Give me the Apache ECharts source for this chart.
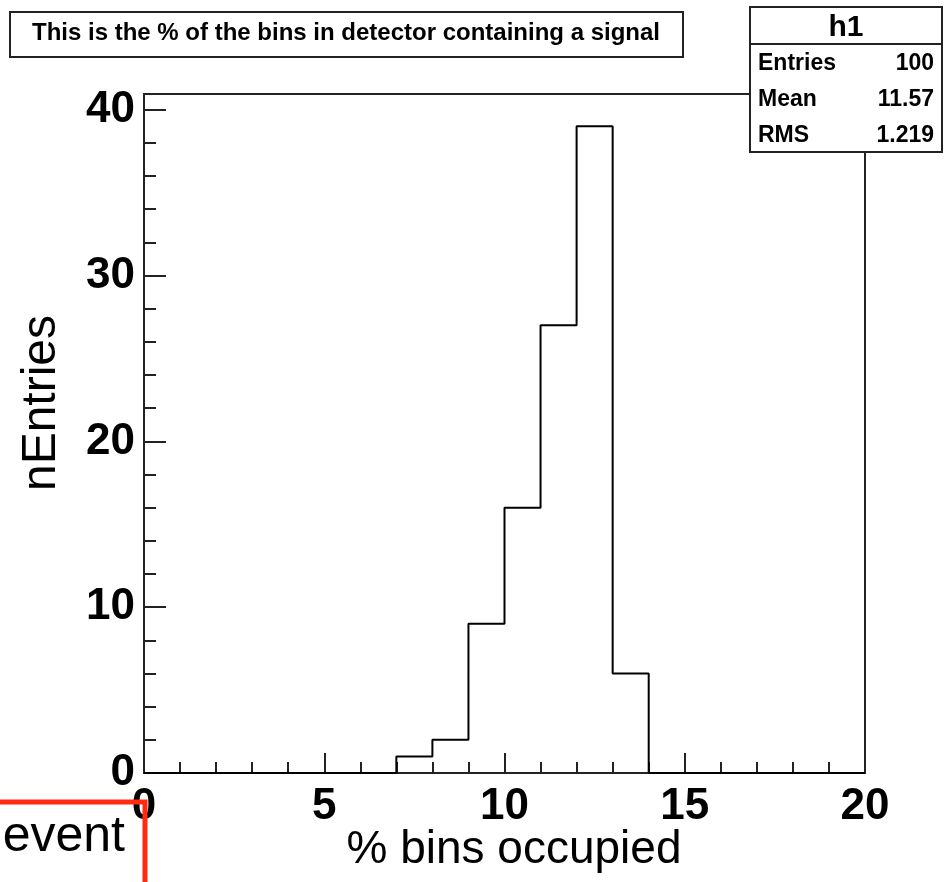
<!DOCTYPE html>
<html><head><meta charset="utf-8">
<script src="https://cdn.jsdelivr.net/npm/echarts@6/dist/echarts.min.js"></script>
<style>html,body{margin:0;padding:0;background:#fff}#c{width:948px;height:882px}</style>
</head><body><div id="c"></div>
<script>
// Histogram h1: bin low edges and counts
const binLow = [0,1,2,3,4,5,6,7,8,9,10,11,12,13,14,15,16,17,18,19];
const counts = [0,0,0,0,0,0,0,1,2,9,16,27,39,6,0,0,0,0,0,0];
const binWidth = 1;
const xTicks = [0,5,10,15,20];
const yTicks = [0,10,20,30,40];
const titleText = 'This is the % of the bins in detector containing a signal';
const statsName = 'h1';
const statsLabels = ['Entries','Mean','RMS'];
const statsValues = ['100','11.57','1.219'];
const xTitle = '% bins occupied';
const yTitle = 'nEntries';
const noteText = 'event';

const stepData = binLow.map((x,i)=>[x,counts[i]]);
stepData.push([binLow[binLow.length-1]+binWidth, 0]);
const yMax = Math.max(...counts)*1.05;

const chart = echarts.init(document.getElementById('c'));
const axisCol = '#222';
const FONT = 'Liberation Sans';
chart.setOption({
  animation:false,
  grid:{left:144,right:83,top:94,bottom:109,show:true,borderColor:axisCol,borderWidth:2,backgroundColor:'#fff'},
  xAxis:{type:'value',min:xTicks[0],max:xTicks[xTicks.length-1],interval:5,
    axisLine:{show:true,lineStyle:{color:axisCol,width:2}},
    axisTick:{show:true,inside:true,length:20,lineStyle:{color:axisCol,width:2}},
    minorTick:{show:true,splitNumber:5,length:11,lineStyle:{color:axisCol,width:2}},
    splitLine:{show:false},
    axisLabel:{color:'#000',fontFamily:FONT,fontWeight:'bold',fontSize:44,margin:12}},
  yAxis:{type:'value',min:0,max:yMax,interval:10,
    axisLine:{show:true,lineStyle:{color:axisCol,width:2}},
    axisTick:{show:true,inside:true,length:22,lineStyle:{color:axisCol,width:2}},
    minorTick:{show:true,splitNumber:5,length:12,lineStyle:{color:axisCol,width:2}},
    splitLine:{show:false},
    axisLabel:{color:'#000',fontFamily:FONT,fontWeight:'bold',fontSize:44,margin:9,
      showMaxLabel:false,formatter:v=>yTicks.includes(v)?String(v):''}},
  series:[{type:'line',step:'end',data:stepData,symbol:'none',
    lineStyle:{color:'#000',width:2},z:3}],
  graphic:[
    {type:'rect',shape:{x:10,y:12,width:673,height:45},style:{fill:'#fff',stroke:'#222',lineWidth:2},z:10},
    {type:'text',x:346,y:33,style:{text:titleText,font:'bold 24px "Liberation Sans"',fill:'#000',textAlign:'center',textVerticalAlign:'middle'},z:11},
    {type:'rect',shape:{x:750,y:7,width:192,height:145},style:{fill:'#fff',stroke:'#222',lineWidth:2},z:10},
    {type:'line',shape:{x1:750,y1:44,x2:942,y2:44},style:{stroke:'#222',lineWidth:2},z:11},
    {type:'text',x:846,y:28,style:{text:statsName,font:'bold 30px "Liberation Sans"',fill:'#000',textAlign:'center',textVerticalAlign:'middle'},z:11},
    ...statsLabels.map((t,i)=>({type:'text',x:758,y:64+i*36,style:{text:t,font:'bold 23px "Liberation Sans"',fill:'#000',textAlign:'left',textVerticalAlign:'middle'},z:11})),
    ...statsValues.map((t,i)=>({type:'text',x:934,y:64+i*36,style:{text:t,font:'bold 23px "Liberation Sans"',fill:'#000',textAlign:'right',textVerticalAlign:'middle'},z:11})),
    {type:'text',x:514,y:850,style:{text:xTitle,font:'46px "Liberation Sans"',fill:'#000',textAlign:'center',textVerticalAlign:'middle'},z:11},
    {type:'text',x:42,y:403,rotation:Math.PI/2,style:{text:yTitle,font:'48px "Liberation Sans"',fill:'#000',textAlign:'center',textVerticalAlign:'middle'},z:11},
    {type:'text',x:125,y:837,style:{text:noteText,font:'50px "Liberation Sans"',fill:'#000',textAlign:'right',textVerticalAlign:'middle'},z:11},
    {type:'polyline',shape:{points:[[0,802],[145,802],[145,882]]},style:{stroke:'#ff2a10',lineWidth:5,fill:null},z:12}
  ]
});
</script></body></html>
